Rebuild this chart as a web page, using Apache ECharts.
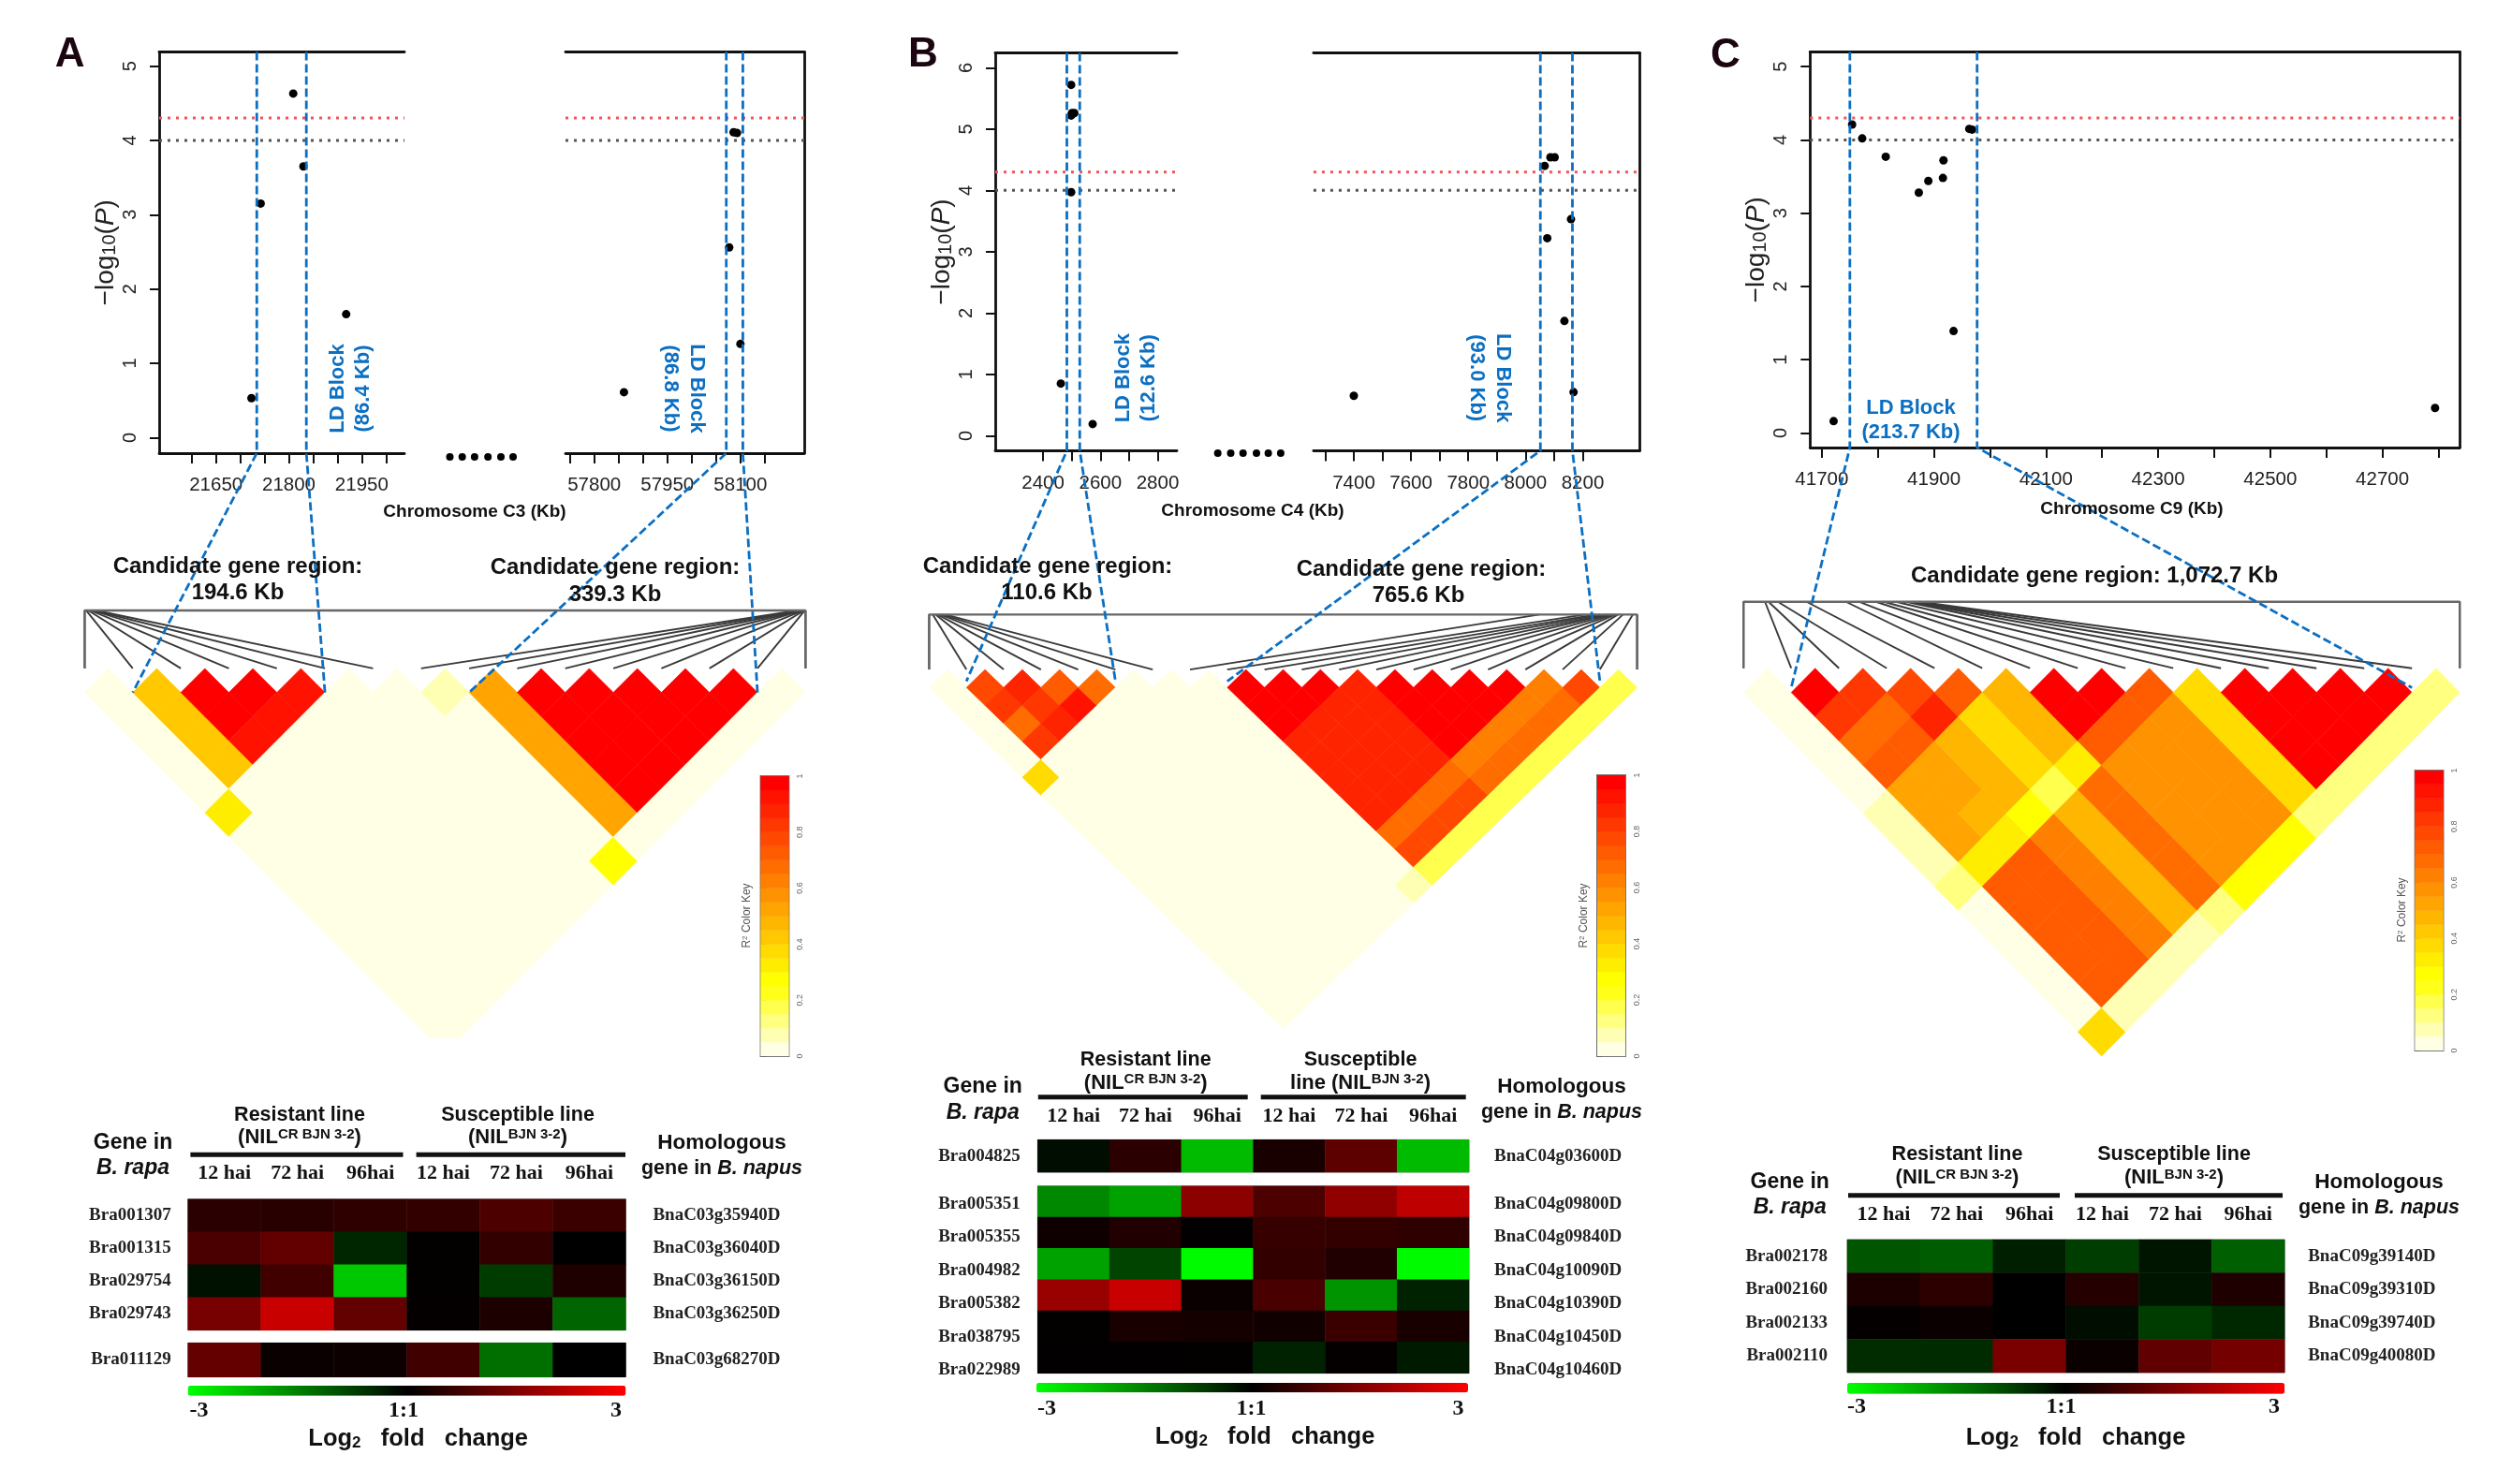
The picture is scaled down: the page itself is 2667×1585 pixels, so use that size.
<!DOCTYPE html>
<html><head><meta charset="utf-8">
<style>html,body{margin:0;padding:0;background:#fff}#c{width:2667px;height:1585px}</style>
<script src="https://cdn.jsdelivr.net/npm/echarts@6/dist/echarts.min.js"></script>
</head><body><div id="c"></div>
<script>
// ---------- DATA ----------
const gwasA1=[[21723,.53],[21742,3.15],[21809,4.63],[21830,3.65],[21918,1.66]];
const gwasA2=[[57861,.61],[58077,2.56],[58086,4.11],[58093,4.10],[58100,1.26]];
const gwasB1=[[2498,5.72],[2498,5.22],[2501,5.26],[2509,5.26],[2498,3.97],[2462,.85],[2573,.19]];
const gwasB2=[[8067,4.40],[8087,4.54],[8102,4.54],[8076,3.22],[8159,3.53],[8136,1.87],[8168,.71],[7400,.65]];
const gwasC=[[41721,.16],[41754,4.21],[41772,4.02],[41814,3.77],[41873,3.28],[41890,3.44],[41916,3.48],[41917,3.72],[41935,1.39],[41963,4.15],[41968,4.14],[42794,.34]];
const ticksA1=[21600,21650,21700,21750,21800,21850,21900,21950,22000], labelsA1=[21650,21800,21950];
const ticksA2=[57750,57800,57850,57900,57950,58000,58050,58100,58150], labelsA2=[57800,57950,58100];
const ticksB1=[2400,2500,2600,2700,2800], labelsB1=[2400,2600,2800];
const ticksB2=[7300,7400,7500,7600,7700,7800,7900,8000,8100,8200], labelsB2=[7400,7600,7800,8000,8200];
const ticksC=[41700,41800,41900,42000,42100,42200,42300,42400,42500,42600,42700,42800], labelsC=[41700,41900,42100,42300,42500,42700];
const ticksY=[0,1,2,3,4,5], ticksYB=[0,1,2,3,4,5,6];
const thresholds=[4.3,4.0];
const blockA1=[21734,21836], blockA2=[58071,58105], blockB1=[2483,2528], blockB2=[8052,8164], blockC=[41750,41977];
const ldEndsA1=[.5,4.5], ldEndsA2=[7.5,13.5], ldEndsB1=[.5,4.5], ldEndsB2=[7.5,17.5], ldEndsC=[.5,13.5];

// LD matrices: row a lists R2 of cells (a,b), b=a..n-1
const ldA=[
[.02,.02,.02,.02,.02,.33,.02,.02,.02,.02,.02,.02,.02,.02,.02],
[.42,.42,.42,.42,.02,.02,.02,.02,.02,.02,.02,.02,.02,.02],
[.98,.98,.92,.02,.02,.02,.02,.02,.02,.02,.02,.02,.02],
[.98,.92,.02,.02,.02,.02,.02,.02,.02,.02,.02,.02],
[.92,.02,.02,.02,.02,.02,.02,.02,.02,.02,.02],
[.02,.02,.02,.02,.02,.02,.02,.02,.02,.02],
[.02,.02,.02,.02,.02,.02,.02,.02,.02],
[.07,.02,.02,.02,.02,.02,.02,.27],
[.52,.52,.52,.52,.52,.52,.02],
[.98,.98,.98,.98,.98,.02],
[.98,.98,.98,.98,.02],
[.98,.98,.98,.02],
[.98,.98,.02],
[.98,.02],
[.02]];
const ldB=[
[.02,.02,.02,.02,.02,.37,.02,.02,.02,.02,.02,.02,.02,.02,.02,.02,.02,.02,.02],
[.78,.82,.66,.82,.02,.02,.02,.02,.02,.02,.02,.02,.02,.02,.02,.02,.02,.02],
[.88,.80,.88,.02,.02,.02,.02,.02,.02,.02,.02,.02,.02,.02,.02,.02,.02],
[.72,.93,.02,.02,.02,.02,.02,.02,.02,.02,.02,.02,.02,.02,.02,.02],
[.68,.02,.02,.02,.02,.02,.02,.02,.02,.02,.02,.02,.02,.02,.02],
[.02,.02,.02,.02,.02,.02,.02,.02,.02,.02,.02,.02,.02,.02],
[.02,.02,.02,.02,.02,.02,.02,.02,.02,.02,.02,.02,.02],
[.02,.02,.02,.02,.02,.02,.02,.02,.02,.02,.02,.07],
[.98,.98,.98,.87,.87,.87,.87,.87,.68,.76,.17],
[.98,.98,.87,.87,.87,.87,.87,.68,.76,.17],
[.98,.87,.87,.87,.87,.87,.68,.76,.17],
[.87,.87,.87,.87,.87,.68,.76,.17],
[.98,.98,.98,.98,.62,.68,.17],
[.98,.98,.98,.62,.68,.17],
[.98,.98,.62,.68,.17],
[.98,.62,.68,.17],
[.62,.68,.17],
[.78,.17],
[.17]];
const ldC=[
[.02,.02,.02,.02,.02,.07,.07,.07,.12,.02,.02,.02,.02,.02,.37],
[.98,.83,.66,.72,.53,.53,.53,.32,.72,.72,.72,.72,.72,.07],
[.83,.66,.72,.53,.53,.47,.32,.72,.72,.72,.72,.72,.07],
[.77,.85,.47,.47,.47,.27,.62,.62,.62,.62,.62,.07],
[.72,.37,.37,.37,.17,.47,.47,.47,.47,.47,.07],
[.47,.47,.47,.32,.68,.68,.68,.68,.68,.12],
[.98,.98,.72,.57,.57,.57,.57,.57,.27],
[.98,.72,.57,.57,.57,.57,.57,.27],
[.72,.57,.57,.57,.57,.57,.27],
[.37,.37,.37,.37,.37,.12],
[.98,.98,.98,.98,.12],
[.98,.98,.98,.12],
[.98,.98,.12],
[.98,.12],
[.12]];
// SNP positions along the track, as fraction of the region
const snpA=[0,.002,.005,.008,.011,.013,.016,.989,.991,.992,.994,.995,.997,.998,.999,1];
const snpB=[0,.005,.009,.012,.016,.019,.023,.862,.926,.941,.948,.955,.958,.962,.966,.969,.973,.980,.994,1];
const snpC=[0,.030,.035,.048,.088,.143,.161,.185,.196,.213,.227,.232,.236,.241,.246,1];
const keyLevels=[.025,.075,.125,.175,.225,.275,.325,.375,.425,.475,.525,.575,.625,.675,.725,.775,.825,.875,.925,.975];

const timepoints=['12 hai','72 hai','96hai','12 hai','72 hai','96hai'];
const genesA1=['Bra001307','Bra001315','Bra029754','Bra029743'], homA1=['BnaC03g35940D','BnaC03g36040D','BnaC03g36150D','BnaC03g36250D'];
const fcA1=[[.5,.47,.55,.6,.9,.68],[.87,1.15,-.45,.03,.6,0],[-.2,.75,-2.35,.03,-.7,.37],[1.4,2.35,1.17,.05,.33,-1.18]];
const genesA2=['Bra011129'], homA2=['BnaC03g68270D'];
const fcA2=[[1.18,.12,.15,.75,-1.3,0]];
const genesB1=['Bra004825'], homB1=['BnaC04g03600D'];
const fcB1=[[-.15,.5,-2.2,.3,1.08,-2.2]];
const genesB2=['Bra005351','Bra005355','Bra004982','Bra005382','Bra038795','Bra022989'];
const homB2=['BnaC04g09800D','BnaC04g09840D','BnaC04g10090D','BnaC04g10390D','BnaC04g10450D','BnaC04g10460D'];
const fcB2=[[-1.6,-1.9,1.65,.9,1.7,2.25],[.18,.38,.02,.65,.6,.55],[-1.9,-.8,-2.95,.6,.38,-2.95],[1.8,2.35,.12,.85,-1.75,-.4],[.03,.3,.25,.2,.68,.3],[.02,.02,.04,-.4,.05,-.3]];
const genesC=['Bra002178','Bra002160','Bra002133','Bra002110'], homC=['BnaC09g39140D','BnaC09g39310D','BnaC09g39740D','BnaC09g40080D'];
const fcC=[[-1,-1.08,-.37,-.72,-.25,-1.12],[.33,.53,0,.42,-.25,.35],[.05,.12,.01,-.15,-.7,-.47],[-.52,-.5,1.43,.12,1.13,1.38]];

// ---------- STYLE ----------
const heatPalette=['#FFFFE6','#FFFFB3','#FFFF80','#FFFF4D','#FFFF1A','#FFFF00','#FFED00','#FFDB00','#FFC800','#FFB600','#FFA400','#FF9200','#FF8000','#FF6D00','#FF5B00','#FF4900','#FF3700','#FF2400','#FF1200','#FF0000'];
const SANS='"Liberation Sans",Arial,sans-serif', NARROW='"Liberation Sans Narrow","Liberation Sans",sans-serif', SERIF='"Liberation Serif",serif';
const BLUE='#0b6fc2';
const colorOf=v=>heatPalette[Math.min(19,Math.floor(v*20))];

const grid=[],xAxis=[],yAxis=[],series=[],texts=[],shapes=[],connectors=[];
function addGrid(l,t,r,b,extra){grid.push(Object.assign({left:l,top:t,width:r-l,height:b-t,containLabel:false},extra||{}));return grid.length-1;}
function addX(o){xAxis.push(o);return xAxis.length-1;}
function addY(o){yAxis.push(o);return yAxis.length-1;}
function txt(x,y,text,o){o=o||{};texts.push({type:'text',x:x,y:y,rotation:o.rot||0,z:50,silent:true,style:{text:text,
  fontFamily:o.family||SANS,fontSize:o.size||22,fontWeight:o.weight||'bold',fontStyle:o.italic?'italic':'normal',fill:o.color||'#111',
  textAlign:'center',align:'center',textVerticalAlign:'middle',verticalAlign:'middle',rich:o.rich}});}

const frameStyle={color:'#111',width:2.8};
function plotPart(p){
  const g=addGrid(p.l,p.t,p.r,p.b);
  const x=addX({gridIndex:g,type:'value',min:p.xmin,max:p.xmax,position:'bottom',
    axisLine:{onZero:false,lineStyle:frameStyle},
    axisTick:{show:true,length:11,customValues:p.ticks,lineStyle:{color:'#111',width:2}},
    axisLabel:{show:true,customValues:p.labels,margin:24,fontFamily:NARROW,fontSize:20.5,color:'#222',formatter:v=>String(v)},splitLine:{show:false}});
  addX({gridIndex:g,type:'value',min:p.xmin,max:p.xmax,position:'top',axisLine:{show:true,onZero:false,lineStyle:frameStyle},axisTick:{show:false},axisLabel:{show:false},splitLine:{show:false}});
  let y;
  const axisBase={gridIndex:g,type:'value',min:p.ymin,max:p.ymax,splitLine:{show:false}};
  if(p.left){
    y=addY(Object.assign({},axisBase,{position:'left',axisLine:{show:true,onZero:false,lineStyle:frameStyle},
      axisTick:{show:true,length:10,customValues:p.yticks,lineStyle:{color:'#111',width:2}},
      axisLabel:{show:true,customValues:p.yticks,rotate:90,margin:21,fontFamily:SANS,fontSize:20,color:'#222'},
      name:'{a|\u2212log}{b|10}{a|(}{i|P}{a|)}',nameLocation:'middle',nameRotate:90,nameGap:43,
      nameTextStyle:{rich:{a:{fontFamily:SANS,fontSize:28,color:'#222'},b:{fontFamily:SANS,fontSize:20,color:'#222',verticalAlign:'bottom'},i:{fontFamily:SANS,fontSize:28,fontStyle:'italic',color:'#222'}}}}));
    if(p.right) addY(Object.assign({},axisBase,{position:'right',axisLine:{show:true,onZero:false,lineStyle:frameStyle},axisTick:{show:false},axisLabel:{show:false}}));
  } else {
    y=addY(Object.assign({},axisBase,{position:'right',axisLine:{show:true,onZero:false,lineStyle:frameStyle},axisTick:{show:false},axisLabel:{show:false}}));
  }
  series.push({type:'line',xAxisIndex:x,yAxisIndex:y,data:[[p.xmin,thresholds[0]],[p.xmax,thresholds[0]]],symbol:'none',z:2,lineStyle:{color:'#f2545b',width:3,type:[3,6]}});
  series.push({type:'line',xAxisIndex:x,yAxisIndex:y,data:[[p.xmin,thresholds[1]],[p.xmax,thresholds[1]]],symbol:'none',z:2,lineStyle:{color:'#555',width:3,type:[3,6]}});
  series.push({type:'scatter',xAxisIndex:x,yAxisIndex:y,data:p.data,symbolSize:9,z:4,itemStyle:{color:'#000',opacity:1},silent:true});
  return {x:x,y:y,ymin:p.ymin,ymax:p.ymax,block:p.block};
}
function ldPlot(p){
  const n=p.matrix.length, rmin=p.rTop-.2;
  const g=addGrid(p.x0-p.pitch/2,p.cy+rmin*p.dy,p.x0+(n-.5)*p.pitch,p.cy+p.rmax*p.dy);
  const x=addX({gridIndex:g,type:'value',min:-.5,max:n-.5,show:false});
  const y=addY({gridIndex:g,type:'value',min:rmin,max:p.rmax,inverse:true,show:false});
  const cells=[];p.matrix.forEach((row,a)=>row.forEach((v,k)=>cells.push([a,a+k,v])));
  series.push({type:'custom',xAxisIndex:x,yAxisIndex:y,clip:true,z:2,silent:true,data:cells,encode:{x:0,y:1},
    renderItem:(params,api)=>{const a=api.value(0),b=api.value(1),c=colorOf(api.value(2)),u=(a+b)/2,r=b-a;
      return {type:'polygon',shape:{points:[api.coord([u-.5,r]),api.coord([u,r-1]),api.coord([u+.5,r]),api.coord([u,r+1])]},style:{fill:c,stroke:c,lineWidth:.6}};}});
  series.push({type:'line',xAxisIndex:x,yAxisIndex:y,data:[[-.5,-1],[-.5,p.rTop],[n-.5,p.rTop],[n-.5,-1]],symbol:'none',z:3,silent:true,lineStyle:{color:'#666',width:2.4}});
  const rTop=p.rTop;
  series.push({type:'custom',xAxisIndex:x,yAxisIndex:y,z:3,silent:true,data:p.snp.map((f,i)=>[f,i]),encode:{x:0,y:1},
    renderItem:(params,api)=>{const f=api.value(0),i=api.value(1);const s=api.coord([-.5+f*n,rTop]),e=api.coord([i-.5,-1]);
      return {type:'line',shape:{x1:s[0],y1:s[1],x2:e[0],y2:e[1]},style:{stroke:'#3a3a3a',lineWidth:1.9}};}});
  return {x:x,y:y};
}
function keyBar(l,t,r,b){
  const g=addGrid(l,t,r,b,{show:true,borderColor:'#777',borderWidth:2,backgroundColor:'transparent'});
  const x=addX({gridIndex:g,type:'value',min:0,max:1,show:false});
  const y=addY({gridIndex:g,type:'value',min:0,max:1,interval:.2,position:'right',splitLine:{show:false},
    axisLine:{show:true,lineStyle:{color:'#666',width:1.5}},axisTick:{show:true,length:5,lineStyle:{color:'#666'}},
    axisLabel:{rotate:90,margin:8,fontSize:9,fontFamily:SANS,color:'#666'}});
  series.push({type:'custom',xAxisIndex:x,yAxisIndex:y,clip:true,silent:true,data:keyLevels.map(v=>[.5,v]),encode:{x:0,y:1},
    renderItem:(params,api)=>{const v=api.value(1),s=api.coord([0,v+.025]),e=api.coord([1,v-.025]),c=colorOf(v);
      return {type:'rect',shape:{x:s[0],y:s[1],width:e[0]-s[0],height:e[1]-s[1]},style:{fill:c,stroke:c,lineWidth:.5}};}});
}
function heatBlock(h,seriesList){
  const g=addGrid(h.l,h.top,h.r,h.top+h.h,{show:true,borderColor:'#999',borderWidth:1,backgroundColor:'transparent'});
  const x=addX({gridIndex:g,type:'category',data:timepoints,position:'top',axisLine:{show:false},axisTick:{show:false},
    axisLabel:{show:!!h.header,margin:h.headMargin||16,interval:0,fontFamily:SERIF,fontWeight:'bold',fontSize:22,color:'#111'},splitLine:{show:false}});
  const y=addY({gridIndex:g,type:'category',data:h.genes,inverse:true,show:false});
  const data=[];h.values.forEach((row,r)=>row.forEach((v,c)=>data.push([c,r,v])));
  series.push({type:'heatmap',xAxisIndex:x,yAxisIndex:y,data:data,silent:true,emphasis:{disabled:true},itemStyle:{borderWidth:0}});
  seriesList.push(series.length-1);
  const lt=h.labelTop===undefined?h.top:h.labelTop, lh=h.labelH||h.h;
  const lg=addGrid(h.l,lt,h.r,lt+lh);
  addX({gridIndex:lg,type:'value',min:0,max:1,show:false});
  const lab={fontFamily:SERIF,fontWeight:'bold',fontSize:19,color:'#222',interval:0};
  addY({gridIndex:lg,type:'category',data:h.genes,inverse:true,position:'left',axisLine:{show:false},axisTick:{show:false},axisLabel:Object.assign({margin:h.mL},lab),splitLine:{show:false}});
  addY({gridIndex:lg,type:'category',data:h.homs,inverse:true,position:'right',axisLine:{show:false},axisTick:{show:false},axisLabel:Object.assign({margin:h.mR},lab),splitLine:{show:false}});
}
const visualMap=[];
function colorbar(list,l,t,w,h){visualMap.push({type:'continuous',seriesIndex:list,min:-3,max:3,show:true,orient:'horizontal',left:l,top:t,itemWidth:h,itemHeight:w,padding:0,text:null,showLabel:false,calculable:false,hoverLink:false,inRange:{color:['#00ff00','#000000','#ff0000']}});}
const supRich={sup:{fontFamily:SANS,fontWeight:'bold',fontSize:15,color:'#111',verticalAlign:'top'}};
const subRich={sub:{fontFamily:SANS,fontWeight:'bold',fontSize:17,color:'#111',verticalAlign:'bottom'}};
function heatText(o){
  txt(o.rx,o.y1,'Resistant line',{size:21.5});
  txt(o.rx,o.y2,'(NIL{sup|CR BJN 3-2})',{size:22,rich:supRich});
  txt(o.sx,o.y1,o.s1||'Susceptible line',{size:21.5});
  txt(o.sx,o.y2,o.s2||'(NIL{sup|BJN 3-2})',{size:22,rich:supRich});
  txt(o.gx,o.gy1,'Gene in',{size:23});
  txt(o.gx,o.gy2,'B. rapa',{size:23,italic:true});
  txt(o.hx,o.gy1,'Homologous',{size:22.5});
  txt(o.hx,o.gy2,'gene in {it|B. napus}',{size:21.5,rich:{it:{fontFamily:SANS,fontSize:21.5,fontWeight:'bold',fontStyle:'italic',color:'#111'}}});
  txt(o.a,o.sy,'-3',{family:SERIF,size:24}); txt(o.m,o.sy,'1:1',{family:SERIF,size:24}); txt(o.z,o.sy,'3',{family:SERIF,size:24});
  txt(o.lx,o.ly,'Log{sub|2}   fold   change',{size:25.5,rich:subRich});
  o.bars.forEach(b=>shapes.push({type:'rect',z:40,silent:true,shape:{x:b[0],y:o.by-2.5,width:b[1]-b[0],height:5},style:{fill:'#111'}}));
}
function dots(xs,y){xs.forEach(x=>shapes.push({type:'circle',z:40,silent:true,shape:{cx:x,cy:y,r:4},style:{fill:'#000'}}));}
function connect(pl,ld,ends,rEnd){pl.block.forEach((kb,i)=>connectors.push({pl:pl,ld:ld,kb:kb,u:ends[i],r:rEnd}));}

// ---------- PANEL A ----------
const yA={t:55.5,b:484,ymin:-.21,ymax:5.19,yticks:ticksY};
const pA1=plotPart(Object.assign({l:170,r:432,xmin:21533,xmax:22038,ticks:ticksA1,labels:labelsA1,data:gwasA1,left:true,block:blockA1},yA));
const pA2=plotPart(Object.assign({l:604,r:859,xmin:57741,xmax:58231,ticks:ticksA2,labels:labelsA2,data:gwasA2,block:blockA2},yA));
const lA=ldPlot({matrix:ldA,snp:snpA,x0:116.1,pitch:51.33,cy:739.6,dy:25.7,rTop:-3.41,rmax:14.36});
connect(pA1,lA,ldEndsA1,0);connect(pA2,lA,ldEndsA2,0);
keyBar(812.6,829,842.4,1128);
const hA=[];
heatBlock({l:200.7,r:668.4,top:1280.7,h:140,genes:genesA1,homs:homA1,values:fcA1,header:true,headMargin:16,mL:18,mR:29},hA);
heatBlock({l:200.7,r:668.4,top:1434.3,h:36.4,genes:genesA2,homs:homA2,values:fcA2,mL:18,mR:29},hA);
colorbar(hA,200.7,1480,467.7,10.7);
dots([480.5,493.7,506.9,521.2,535,548],488);
txt(74.6,59.3,'A',{size:44,color:'#1a0510'});
txt(507,546.5,'Chromosome C3 (Kb)',{size:19});
[[360.5,'LD Block'],[388,'(86.4 Kb)']].forEach(a=>txt(a[0],415,a[1],{size:22,color:BLUE,rot:Math.PI/2}));
[[744,'LD Block'],[716.4,'(86.8 Kb)']].forEach(a=>txt(a[0],415,a[1],{size:22,color:BLUE,rot:-Math.PI/2}));
txt(254,605.7,'Candidate gene region:',{size:24});txt(254,633.6,'194.6 Kb',{size:24});
txt(657,606.8,'Candidate gene region:',{size:24});txt(657,635.4,'339.3 Kb',{size:24});
txt(798,978,'R{s|2} Color Key',{family:SANS,size:12,weight:'normal',color:'#555',rot:Math.PI/2,rich:{s:{fontSize:8,color:'#555',verticalAlign:'top',fontFamily:SANS}}});
heatText({rx:320,sx:553,y1:1190.7,y2:1215,gx:142,gy1:1221,gy2:1248,hx:771,a:212.6,m:431,z:658,sy:1507,lx:446.7,ly:1537,by:1233.3,bars:[[203.4,430.5],[444.6,668]]});

// ---------- PANEL B ----------
const yB={t:56.6,b:481.4,ymin:-.245,ymax:6.24,yticks:ticksYB};
const pB1=plotPart(Object.assign({l:1063,r:1257,xmin:2233,xmax:2867,ticks:ticksB1,labels:labelsB1,data:gwasB1,left:true,block:blockB1},yB));
const pB2=plotPart(Object.assign({l:1402.9,r:1751.3,xmin:7259,xmax:8399,ticks:ticksB2,labels:labelsB2,data:gwasB2,block:blockB2},yB));
const lB=ldPlot({matrix:ldB,snp:snpB,x0:1012.3,pitch:39.8,cy:734.3,dy:19.2,rTop:-4.06,rmax:19.1});
connect(pB1,lB,ldEndsB1,-.35);connect(pB2,lB,ldEndsB2,-.35);
keyBar(1706,828,1736,1128);
const hB=[];
heatBlock({l:1108.3,r:1569,top:1217.3,h:34.7,genes:genesB1,homs:homB1,values:fcB1,header:true,headMargin:14,mL:18.5,mR:27},hB);
heatBlock({l:1108.3,r:1569,top:1266.7,h:200,labelTop:1268.3,labelH:212.8,genes:genesB2,homs:homB2,values:fcB2,mL:18.5,mR:27},hB);
colorbar(hB,1107,1477,461,10.3);
dots([1300.7,1314.5,1327.7,1342,1354.6,1367.9],484);
txt(986,59.3,'B',{size:44,color:'#1a0510'});
txt(1338,546,'Chromosome C4 (Kb)',{size:19});
[[1199.7,'LD Block'],[1227,'(12.6 Kb)']].forEach(a=>txt(a[0],403.7,a[1],{size:22,color:BLUE,rot:Math.PI/2}));
[[1605,'LD Block'],[1577,'(93.0 Kb)']].forEach(a=>txt(a[0],403.7,a[1],{size:22,color:BLUE,rot:-Math.PI/2}));
txt(1119,605.7,'Candidate gene region:',{size:24});txt(1118,633.6,'110.6 Kb',{size:24});
txt(1518,607.9,'Candidate gene region:',{size:24});txt(1515,636,'765.6 Kb',{size:24});
txt(1691.5,978,'R{s|2} Color Key',{family:SANS,size:12,weight:'normal',color:'#555',rot:Math.PI/2,rich:{s:{fontSize:8,color:'#555',verticalAlign:'top',fontFamily:SANS}}});
heatText({rx:1223.7,sx:1453,s1:'Susceptible',s2:'line (NIL{sup|BJN 3-2})',y1:1132,y2:1156.7,gx:1049.7,gy1:1161,gy2:1188.3,hx:1668,a:1118,m:1336.5,z:1557.6,sy:1504.3,lx:1351,ly:1535,by:1171.7,bars:[[1108.8,1332.7],[1346.7,1565.7]]});

// ---------- PANEL C ----------
const pC=plotPart({l:1933.3,r:2627.2,t:55.5,b:478,ymin:-.2,ymax:5.2,yticks:ticksY,xmin:41679,xmax:42838,ticks:ticksC,labels:labelsC,data:gwasC,left:true,right:true,block:blockC});
const lC=ldPlot({matrix:ldC,snp:snpC,x0:1887.7,pitch:51,cy:739.6,dy:25.9,rTop:-3.74,rmax:15.1});
connect(pC,lC,ldEndsC,-.2);
keyBar(2579.6,822.9,2609.5,1122);
const hC=[];
heatBlock({l:1973,r:2440.2,top:1324,h:142,genes:genesC,homs:homC,values:fcC,header:true,headMargin:16,mL:21,mR:25},hC);
colorbar(hC,1973,1477,467.2,11.7);
txt(1843,60,'C',{size:44,color:'#1a0510'});
txt(2277,543.5,'Chromosome C9 (Kb)',{size:19});
txt(2041,435.5,'LD Block',{size:22,color:BLUE});txt(2041,462,'(213.7 Kb)',{size:22,color:BLUE});
txt(2237,615,'Candidate gene region: 1,072.7 Kb',{size:24});
txt(2565.7,972,'R{s|2} Color Key',{family:SANS,size:12,weight:'normal',color:'#555',rot:Math.PI/2,rich:{s:{fontSize:8,color:'#555',verticalAlign:'top',fontFamily:SANS}}});
heatText({rx:2090.5,sx:2322,y1:1233,y2:1258,gx:1911.7,gy1:1263,gy2:1290,hx:2541,a:1983,m:2201.6,z:2429,sy:1502.7,lx:2217,ly:1535.7,by:1276.7,bars:[[1974,2200],[2216,2438]]});

const chart=echarts.init(document.getElementById('c'),null,{renderer:'canvas',width:2667,height:1585});
chart.setOption({animation:false,backgroundColor:'#fff',grid:grid,xAxis:xAxis,yAxis:yAxis,series:series,visualMap:visualMap,tooltip:{show:false},legend:{show:false}});
const connectorEls=connectors.map(c=>{
  const px=(xi,yi,v)=>chart.convertToPixel({xAxisIndex:xi,yAxisIndex:yi},v);
  const a=px(c.pl.x,c.pl.y,[c.kb,c.pl.ymax]),b=px(c.pl.x,c.pl.y,[c.kb,c.pl.ymin]),e=px(c.ld.x,c.ld.y,[c.u,c.r]);
  return {type:'polyline',z:45,silent:true,shape:{points:[a,b,e]},style:{stroke:BLUE,lineWidth:2.8,lineDash:[9,4],fill:null}};
});
chart.setOption({graphic:{elements:[].concat(shapes,connectorEls,texts)}});
</script></body></html>
